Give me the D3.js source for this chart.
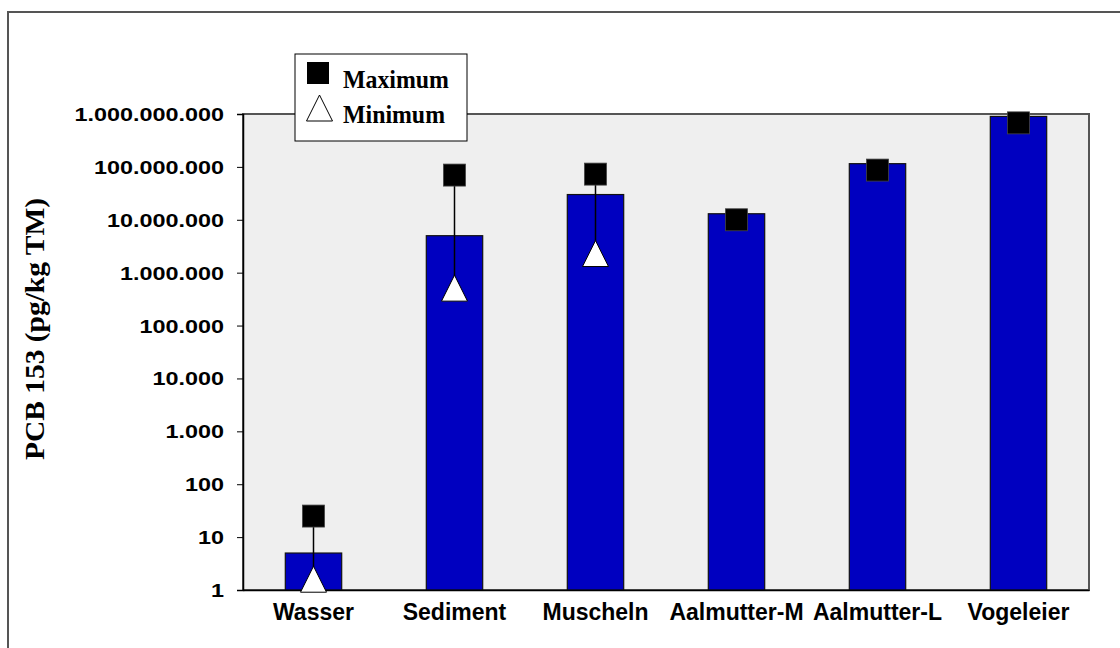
<!DOCTYPE html>
<html>
<head>
<meta charset="utf-8">
<script src="https://cdn.jsdelivr.net/npm/d3@7"></script>
<style>
  html, body { margin: 0; padding: 0; background: #fff; }
  svg { display: block; }
</style>
</head>
<body>
<svg id="chart"></svg>
<script>
// data (pg/kg TM, log scale)
const categories = ["Wasser", "Sediment", "Muscheln", "Aalmutter-M", "Aalmutter-L", "Vogeleier"];
const barValues = [5, 5.0e6, 3.0e7, 1.3e7, 1.15e8, 9.0e8];
const maxValues = [25, 7.0e7, 7.3e7, 1.0e7, 8.7e7, 6.8e8];
const minValues = [1.6, 5.1e5, 2.3e6, null, null, null];
const tickValues = [1, 10, 100, 1e3, 1e4, 1e5, 1e6, 1e7, 1e8, 1e9];
const tickLabels = ["1", "10", "100", "1.000", "10.000", "100.000", "1.000.000",
    "10.000.000", "100.000.000", "1.000.000.000"];
const legendLabels = ["Maximum", "Minimum"];

const width = 1120;
const height = 648;
const plot = { left: 243, right: 1089, top: 114, bottom: 590 };

const svg = d3.select("#chart")
    .attr("width", width)
    .attr("height", height);

// outer frame (only left + top fall inside the window)
svg.append("rect")
    .attr("x", 8).attr("y", 12)
    .attr("width", 1130).attr("height", 660)
    .attr("fill", "none")
    .attr("stroke", "#555")
    .attr("stroke-width", 2);

const x = d3.scaleBand()
    .domain(categories)
    .range([plot.left, plot.right])
    .paddingInner(0.6)
    .paddingOuter(0.3);

const y = d3.scaleLog()
    .domain([1, 1e9])
    .range([plot.bottom, plot.top]);

// plot background
svg.append("rect")
    .attr("x", plot.left).attr("y", plot.top)
    .attr("width", plot.right - plot.left)
    .attr("height", plot.bottom - plot.top)
    .attr("fill", "#efefef")
    .attr("stroke", "#555")
    .attr("stroke-width", 2);

// bars
svg.append("g").selectAll("rect")
    .data(categories)
    .join("rect")
    .attr("x", d => x(d))
    .attr("width", x.bandwidth())
    .attr("y", (d, i) => y(barValues[i]))
    .attr("height", (d, i) => y(1) - y(barValues[i]))
    .attr("fill", "#0000c0")
    .attr("stroke", "#111")
    .attr("stroke-width", 1.2);

// min-max lines
const cx = d => x(d) + x.bandwidth() / 2;
svg.append("g").selectAll("line")
    .data(categories.filter((d, i) => minValues[i] != null))
    .join("line")
    .attr("x1", cx).attr("x2", cx)
    .attr("y1", d => y(maxValues[categories.indexOf(d)]))
    .attr("y2", d => y(minValues[categories.indexOf(d)]))
    .attr("stroke", "#000")
    .attr("stroke-width", 1.5);

// axes
const yAxis = d3.axisLeft(y)
    .tickValues(tickValues)
    .tickFormat((d, i) => tickLabels[i])
    .tickSize(6)
    .tickPadding(0);

const gy = svg.append("g")
    .attr("transform", `translate(${plot.left},0)`)
    .call(yAxis);
gy.select(".domain").attr("stroke", "#000").attr("stroke-width", 1.5);
gy.selectAll(".tick line").attr("stroke", "#000").attr("stroke-width", 1);
gy.selectAll(".tick text")
    .attr("font-family", "'Liberation Sans', Arial, sans-serif")
    .attr("font-weight", "bold")
    .attr("font-size", "18px")
    .attr("fill", "#000")
    .attr("x", -19 / 1.3)
    .attr("dy", "0.36em")
    .attr("transform", "scale(1.3,1)");

const xAxis = d3.axisBottom(x).tickSize(0).tickPadding(14);
const gx = svg.append("g")
    .attr("transform", `translate(0,${plot.bottom})`)
    .call(xAxis);
gx.select(".domain").attr("stroke", "#000").attr("stroke-width", 1.5);
gx.selectAll(".tick text")
    .attr("font-family", "'Liberation Sans', Arial, sans-serif")
    .attr("font-weight", "bold")
    .attr("font-size", "23px")
    .attr("fill", "#000");

// markers
const tri = (cxp, cyp, w, h) =>
    `M${cxp},${cyp - h / 2}L${cxp + w / 2},${cyp + h / 2}L${cxp - w / 2},${cyp + h / 2}Z`;

svg.append("g").selectAll("path")
    .data(categories.filter((d, i) => minValues[i] != null))
    .join("path")
    .attr("d", d => tri(cx(d), y(minValues[categories.indexOf(d)]), 26, 26))
    .attr("fill", "#fff")
    .attr("stroke", "#000")
    .attr("stroke-width", 1);

svg.append("g").selectAll("rect")
    .data(categories)
    .join("rect")
    .attr("x", d => cx(d) - 11)
    .attr("y", (d, i) => y(maxValues[i]) - 11)
    .attr("width", 22)
    .attr("height", 22)
    .attr("fill", "#000")
    .attr("stroke", "#444")
    .attr("stroke-width", 0.8);

// y title
svg.append("text")
    .attr("transform", "translate(44,329) rotate(-90)")
    .attr("text-anchor", "middle")
    .attr("font-family", "'Liberation Serif', 'Times New Roman', serif")
    .attr("font-weight", "bold")
    .attr("font-size", "27px")
    .attr("textLength", 262)
    .attr("lengthAdjust", "spacingAndGlyphs")
    .text("PCB 153 (pg/kg TM)");

// legend
const legend = svg.append("g").attr("transform", "translate(295,54)");
legend.append("rect")
    .attr("width", 172).attr("height", 87)
    .attr("fill", "#fff")
    .attr("stroke", "#000")
    .attr("stroke-width", 1);
legend.append("rect")
    .attr("x", 12).attr("y", 8)
    .attr("width", 22).attr("height", 22)
    .attr("fill", "#000");
legend.append("path")
    .attr("d", tri(24.5, 54, 26, 26))
    .attr("fill", "#fff")
    .attr("stroke", "#000")
    .attr("stroke-width", 1);
legend.selectAll("text.lg")
    .data(legendLabels)
    .join("text")
    .attr("class", "lg")
    .attr("x", 48)
    .attr("y", (d, i) => 34 + i * 35)
    .attr("font-family", "'Liberation Serif', 'Times New Roman', serif")
    .attr("font-weight", "bold")
    .attr("font-size", "25px")
    .attr("textLength", (d, i) => i === 0 ? 106 : 102)
    .attr("lengthAdjust", "spacingAndGlyphs")
    .text(d => d);
</script>
</body>
</html>
